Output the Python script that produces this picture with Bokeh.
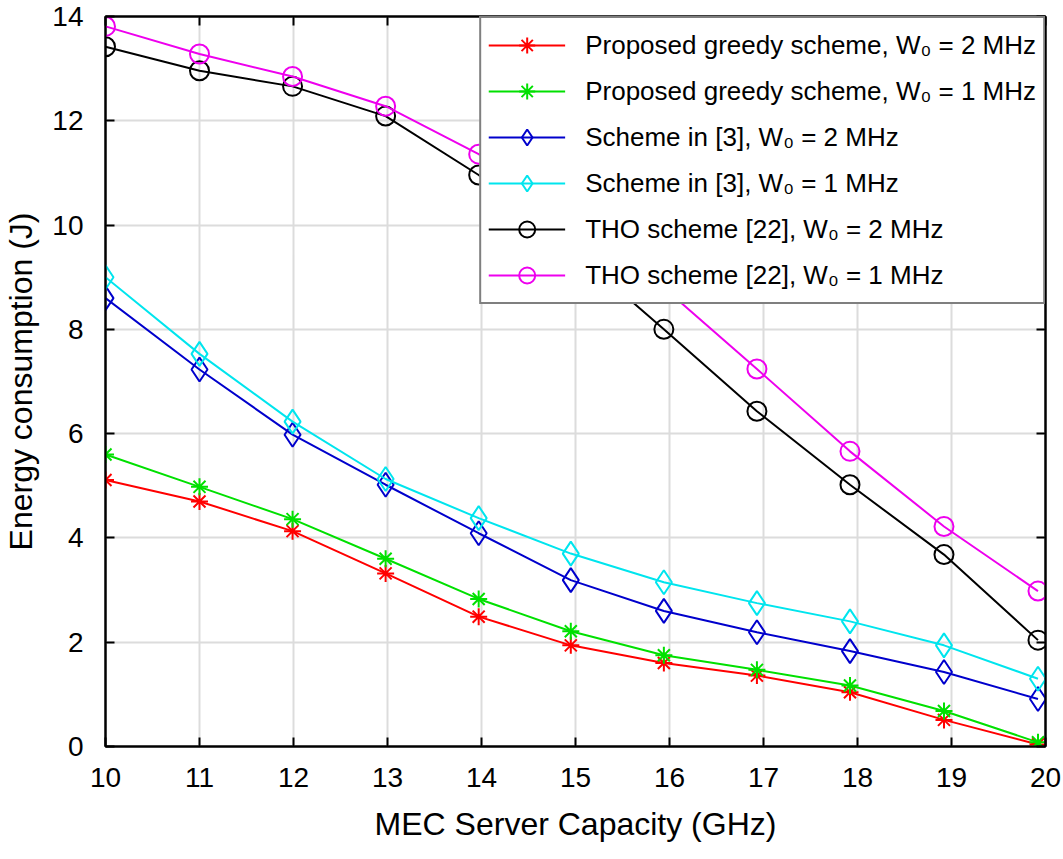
from bokeh.plotting import figure
from bokeh.models import Legend, LegendItem, LinearAxis, FixedTicker, Range1d
from bokeh.embed import file_html
from bokeh.resources import INLINE

# ---- data ----
capacity = [10, 11, 11.99, 12.98, 13.97, 14.95, 15.94, 16.93, 17.92, 18.92, 19.92]
greedy_2mhz = [5.11, 4.70, 4.13, 3.32, 2.49, 1.94, 1.60, 1.36, 1.04, 0.51, 0.04]
greedy_1mhz = [5.60, 4.98, 4.36, 3.60, 2.83, 2.21, 1.75, 1.47, 1.17, 0.68, 0.08]
ref3_2mhz = [8.60, 7.23, 5.98, 5.02, 4.09, 3.19, 2.60, 2.19, 1.83, 1.43, 0.91]
ref3_1mhz = [9.00, 7.53, 6.23, 5.13, 4.38, 3.70, 3.15, 2.75, 2.40, 1.94, 1.30]
tho_2mhz = [13.42, 12.96, 12.66, 12.09, 10.96, 9.55, 8.00, 6.43, 5.02, 3.68, 2.04]
tho_1mhz = [13.81, 13.28, 12.85, 12.28, 11.36, 10.15, 8.80, 7.24, 5.66, 4.22, 2.98]

labels = [
    "Proposed greedy scheme, W\u2080 = 2 MHz",
    "Proposed greedy scheme, W\u2080 = 1 MHz",
    "Scheme in [3], W\u2080 = 2 MHz",
    "Scheme in [3], W\u2080 = 1 MHz",
    "THO scheme [22], W\u2080 = 2 MHz",
    "THO scheme [22], W\u2080 = 1 MHz",
]
x_ticks = [10, 11, 12, 13, 14, 15, 16, 17, 18, 19, 20]
y_ticks = [0, 2, 4, 6, 8, 10, 12, 14]

series = [greedy_2mhz, greedy_1mhz, ref3_2mhz, ref3_1mhz, tho_2mhz, tho_1mhz]
colors = ["#ff0000", "#00e000", "#0000cc", "#00e5ee", "#000000", "#ee00ee"]
markers = ["asterisk", "asterisk", "diamond", "diamond", "circle", "circle"]
msizes = [17, 17, 24, 24, 19, 19]

FONT = "Liberation Sans"

p = figure(
    frame_width=940, frame_height=730,
    x_range=Range1d(10, 20), y_range=Range1d(0, 14),
    output_backend="svg", toolbar_location=None,
    min_border_left=99, min_border_right=16, min_border_top=16, min_border_bottom=105,
)
p.background_fill_color = "white"
p.border_fill_color = "white"
p.outline_line_color = "black"
p.outline_line_width = 2

# grids
p.xgrid.ticker = FixedTicker(ticks=x_ticks)
p.ygrid.ticker = FixedTicker(ticks=y_ticks)
for g in (p.xgrid, p.ygrid):
    g.grid_line_color = "#dcdcdc"
    g.grid_line_width = 2

# main axes
for ax, ticks in ((p.xaxis[0], x_ticks), (p.yaxis[0], y_ticks)):
    ax.ticker = FixedTicker(ticks=ticks)
    ax.major_tick_in = 9
    ax.major_tick_out = 0
    ax.minor_tick_line_color = None
    ax.axis_line_width = 2
    ax.major_tick_line_width = 2
    ax.major_label_text_font = FONT
    ax.major_label_text_font_size = "28px"
    ax.major_label_text_color = "black"
    ax.axis_label_text_font = FONT
    ax.axis_label_text_font_size = "32px"
    ax.axis_label_text_font_style = "normal"
    ax.axis_label_text_color = "black"

p.xaxis.axis_label = "MEC Server Capacity (GHz)"
p.yaxis.axis_label = "Energy consumption (J)"
p.xaxis.major_label_standoff = 21
p.yaxis.major_label_standoff = 22
p.xaxis.axis_label_standoff = 16
p.yaxis.axis_label_standoff = 10

# mirrored tick-only axes (box on)
top_ax = LinearAxis(ticker=FixedTicker(ticks=x_ticks))
right_ax = LinearAxis(ticker=FixedTicker(ticks=y_ticks))
for ax in (top_ax, right_ax):
    ax.major_tick_in = 9
    ax.major_tick_out = 0
    ax.major_tick_line_width = 2
    ax.minor_tick_line_color = None
    ax.axis_line_width = 2
    ax.major_label_text_font_size = "0px"
    ax.major_label_standoff = 0
    ax.major_label_text_color = None
p.add_layout(top_ax, "above")
p.add_layout(right_ax, "right")

items = []
for ys, c, m, s, lab in zip(series, colors, markers, msizes, labels):
    lr = p.line(capacity, ys, line_color=c, line_width=2)
    sr = p.scatter(capacity, ys, marker=m, size=s,
                   line_color=c, fill_color=None, line_width=2)
    items.append(LegendItem(label=lab, renderers=[lr, sr]))

legend = Legend(
    items=items, location="top_right", margin=0,
    glyph_width=77, glyph_height=40, label_height=40,
    spacing=6, padding=7, label_standoff=20,
    label_text_font=FONT, label_text_font_size="26px", label_text_color="black",
    border_line_color="black", border_line_width=2,
    background_fill_color="white", background_fill_alpha=1.0,
)
p.add_layout(legend, "center")

open("out.html", "w").write(file_html(p, INLINE))
